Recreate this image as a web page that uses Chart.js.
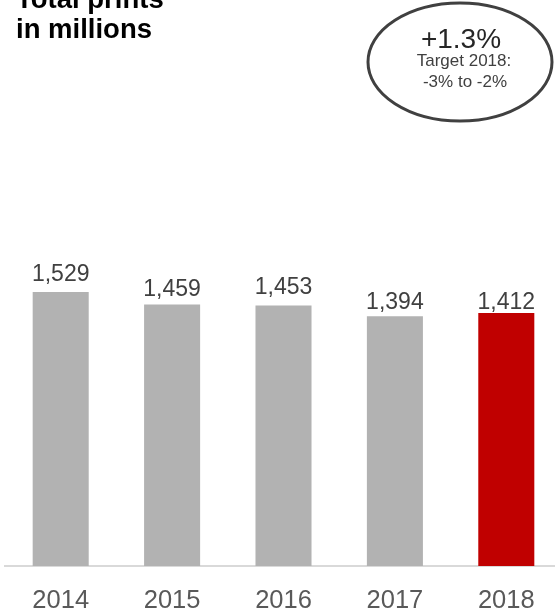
<!DOCTYPE html>
<html>
<head>
<meta charset="utf-8">
<script src="https://cdn.jsdelivr.net/npm/chart.js@4.4.0/dist/chart.umd.min.js"></script>
<style>
  html, body { margin: 0; padding: 0; background: #fff; overflow: hidden; }
  #wrap { position: relative; width: 562px; height: 614px; overflow: hidden; }
</style>
</head>
<body>
<div id="wrap"><canvas id="printsChart" width="562" height="636"></canvas></div>
<script>
const years = ['2014', '2015', '2016', '2017', '2018'];
const prints = [1529, 1459, 1453, 1394, 1412];
const barColors = ['#b2b2b2', '#b2b2b2', '#b2b2b2', '#b2b2b2', '#c00000'];
// space between each value label and the top of its bar (px)
const labelGaps = [11, 8, 12, 7, 4];

const titleLines = ['Total prints', 'in millions'];
const changeText = '+1.3%';
const targetLines = ['Target 2018:', '-3% to -2%'];

const FONT = '"Liberation Sans", Arial, sans-serif';

// numbers printed above the bars
const valueLabels = {
  id: 'valueLabels',
  afterDatasetsDraw(chart) {
    const ctx = chart.ctx;
    const meta = chart.getDatasetMeta(0);
    ctx.save();
    ctx.font = '23px ' + FONT;
    ctx.fillStyle = '#404040';
    ctx.textAlign = 'center';
    ctx.textBaseline = 'alphabetic';
    meta.data.forEach((bar, i) => {
      ctx.fillText(prints[i].toLocaleString('en-US'), bar.x, bar.y - labelGaps[i]);
    });
    ctx.restore();
  }
};

// title top left and the change bubble top right
const header = {
  id: 'header',
  afterDraw(chart) {
    const ctx = chart.ctx;
    ctx.save();
    ctx.textBaseline = 'alphabetic';

    ctx.font = 'bold 27.5px ' + FONT;
    ctx.fillStyle = '#000';
    ctx.textAlign = 'left';
    ctx.fillText(titleLines[0], 16, 8);
    ctx.fillText(titleLines[1], 16, 38);

    ctx.beginPath();
    ctx.ellipse(460, 62, 92, 59, 0, 0, Math.PI * 2);
    ctx.lineWidth = 3;
    ctx.strokeStyle = '#404040';
    ctx.stroke();

    ctx.textAlign = 'center';
    ctx.font = '28px ' + FONT;
    ctx.fillStyle = '#262626';
    ctx.fillText(changeText, 461, 48);
    ctx.font = '17px ' + FONT;
    ctx.fillStyle = '#404040';
    ctx.fillText(targetLines[0], 464, 66);
    ctx.fillText(targetLines[1], 465, 87);
    ctx.restore();
  }
};

new Chart(document.getElementById('printsChart'), {
  type: 'bar',
  data: {
    labels: years,
    datasets: [{
      data: prints,
      backgroundColor: barColors,
      barPercentage: 0.503,
      categoryPercentage: 1.0
    }]
  },
  options: {
    responsive: false,
    animation: false,
    layout: { padding: { top: 100, left: 5, right: 0, bottom: 0 } },
    plugins: {
      legend: { display: false },
      tooltip: { enabled: false }
    },
    scales: {
      x: {
        grid: { display: false, drawTicks: false },
        border: { display: true, color: '#d9d9d9', width: 2 },
        ticks: {
          color: '#595959',
          font: { family: FONT, size: 25.5, lineHeight: 1.1 },
          padding: 21
        }
      },
      y: { display: false, min: 0, max: 2600 }
    }
  },
  plugins: [valueLabels, header]
});
</script>
</body>
</html>
